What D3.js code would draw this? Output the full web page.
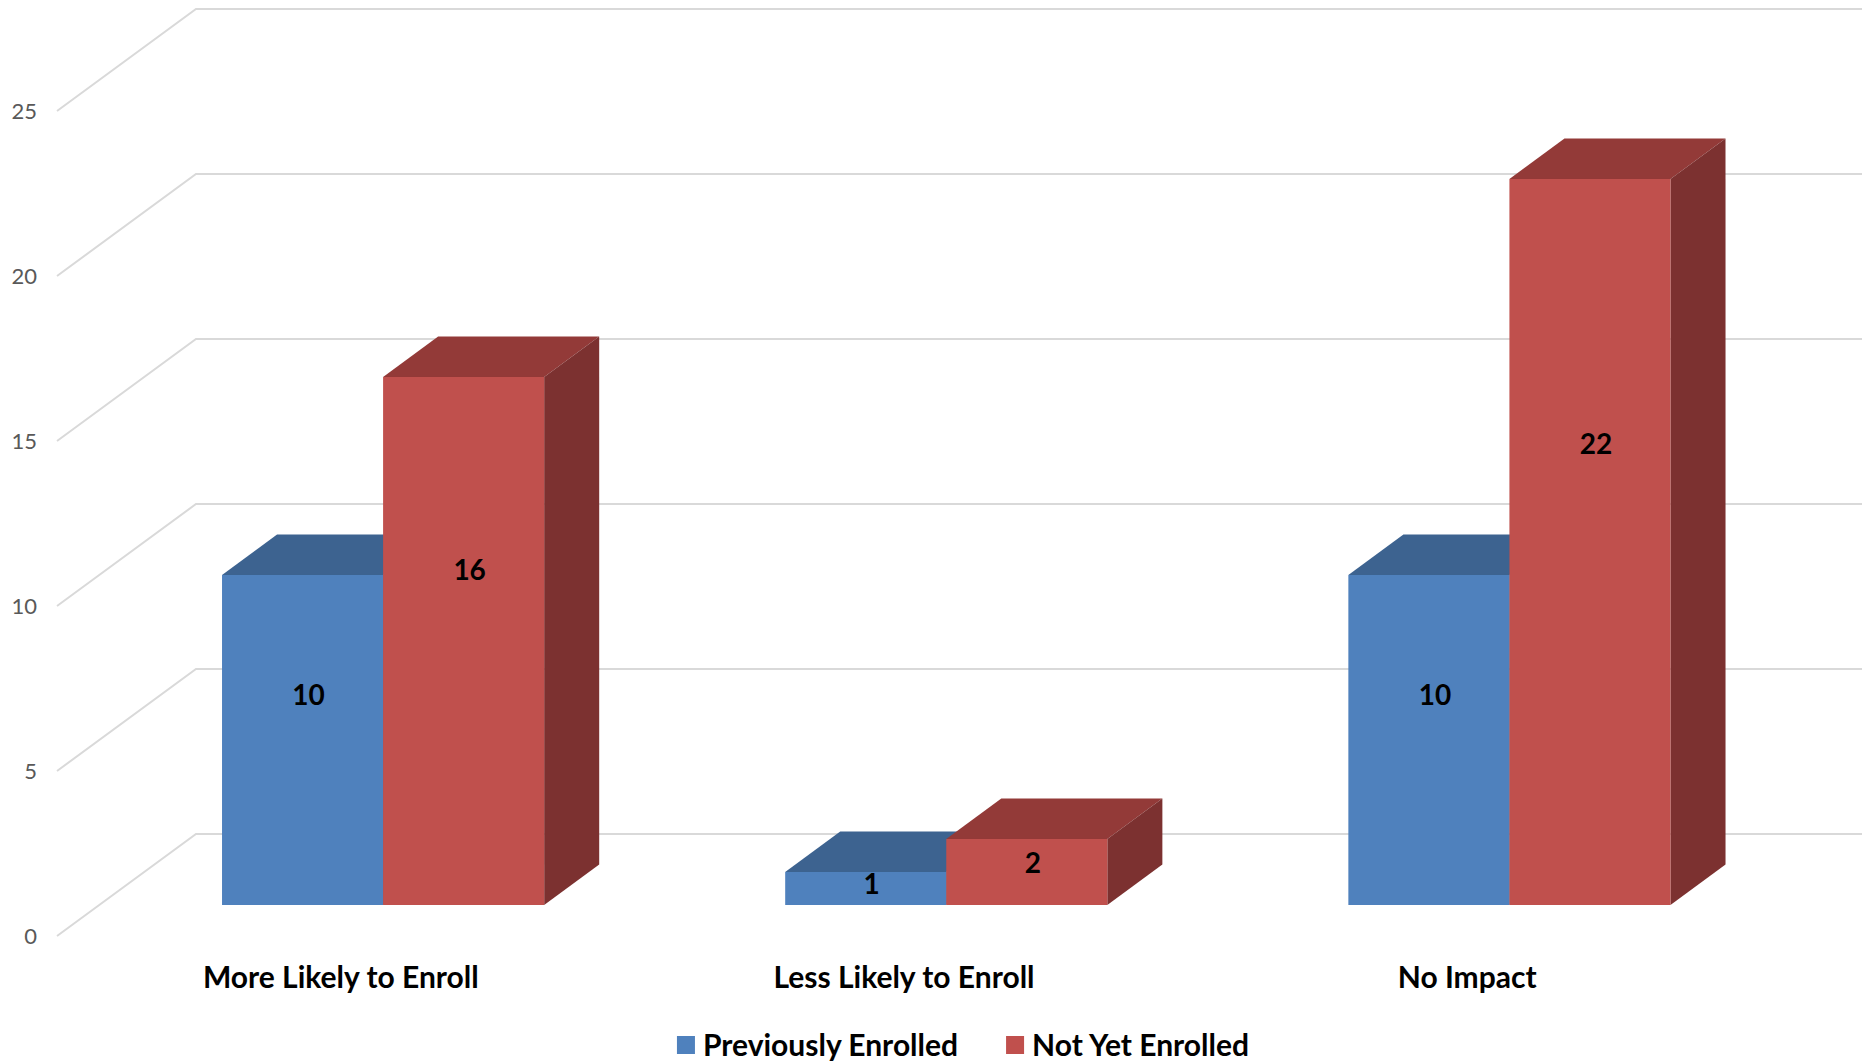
<!DOCTYPE html>
<html>
<head>
<meta charset="utf-8">
<script src="https://cdn.jsdelivr.net/npm/d3@7"></script>
<style>
  body { margin: 0; background: #fff; }
  svg { display: block; font-family: Lato, "Open Sans", sans-serif; }
</style>
</head>
<body>
<div id="chart"></div>
<script>
// data
const categories = ["More Likely to Enroll", "Less Likely to Enroll", "No Impact"]
const seriesNames = ["Previously Enrolled", "Not Yet Enrolled"]
const previouslyEnrolled = [10, 1, 10]
const notYetEnrolled = [16, 2, 22]
const yTicks = [0, 5, 10, 15, 20, 25]

const faceColors = {
    "Previously Enrolled": {front: "#4f81bd", top: "#3d6390", side: "#385d8a"},
    "Not Yet Enrolled": {front: "#c0504d", top: "#933a38", side: "#7c3130"}
}

const W = 1862, H = 1062

// 3d look: floor depth pushes things right and up
const depth = {dx: 139, dy: 102}
const barD0 = 0.304, barD1 = 0.70

const svg = d3.select("#chart").append("svg")
    .attr("width", W)
    .attr("height", H)

// scales (front plane)
const x0 = d3.scaleBand()
    .domain(categories)
    .range([57, 1751])
    .paddingInner(0.428)
    .paddingOuter(0.218)

const x1 = d3.scaleBand()
    .domain(seriesNames)
    .range([0, x0.bandwidth()])

const y = d3.scaleLinear()
    .domain([0, 25])
    .range([936, 111])

function px(x, d) { return x + d * depth.dx }
function py(v, d) { return y(v) - d * depth.dy }

// gridlines: side wall diagonal + back wall horizontal
const axisX = x0.range()[0]
const grid = svg.append("g").attr("class", "grid")
grid.selectAll("path")
    .data(yTicks)
    .enter().append("path")
    .attr("d", t => `M${px(axisX, 0)},${py(t, 0)}L${px(axisX, 1)},${py(t, 1)}L${W},${py(t, 1)}`)
    .attr("fill", "none")
    .attr("stroke", "#d9d9d9")
    .attr("stroke-width", 2)

// y tick labels
svg.append("g").selectAll("text")
    .data(yTicks)
    .enter().append("text")
    .attr("x", 37)
    .attr("y", t => y(t))
    .attr("dy", "0.35em")
    .attr("text-anchor", "end")
    .attr("font-size", 22)
    .attr("fill", "#595959")
    .text(d => d)

// bars
let bars = []
categories.forEach(function(c, i) {
    bars.push({cat: c, series: seriesNames[0], value: previouslyEnrolled[i]})
    bars.push({cat: c, series: seriesNames[1], value: notYetEnrolled[i]})
})

const barG = svg.append("g").selectAll("g")
    .data(bars)
    .enter().append("g")

function xl(d) { return x0(d.cat) + x1(d.series) }
function xr(d) { return x0(d.cat) + x1(d.series) + x1.bandwidth() }

// top face
barG.append("path")
    .attr("d", d => `M${px(xl(d), barD0)},${py(d.value, barD0)}L${px(xr(d), barD0)},${py(d.value, barD0)}` +
        `L${px(xr(d), barD1)},${py(d.value, barD1)}L${px(xl(d), barD1)},${py(d.value, barD1)}Z`)
    .attr("fill", d => faceColors[d.series].top)

// right side face
barG.append("path")
    .attr("d", d => `M${px(xr(d), barD0)},${py(d.value, barD0)}L${px(xr(d), barD1)},${py(d.value, barD1)}` +
        `L${px(xr(d), barD1)},${py(0, barD1)}L${px(xr(d), barD0)},${py(0, barD0)}Z`)
    .attr("fill", d => faceColors[d.series].side)

// front face
barG.append("rect")
    .attr("x", d => px(xl(d), barD0))
    .attr("y", d => py(d.value, barD0))
    .attr("width", x1.bandwidth())
    .attr("height", d => py(0, barD0) - py(d.value, barD0))
    .attr("fill", d => faceColors[d.series].front)

// data labels
barG.append("text")
    .attr("x", d => px(xl(d), barD0) + x1.bandwidth() / 2 + 6)
    .attr("y", d => py(d.value * 0.635, barD0))
    .attr("dy", "0.35em")
    .attr("text-anchor", "middle")
    .attr("font-size", 28)
    .attr("font-weight", "bold")
    .attr("fill", "#000")
    .text(d => d.value)

// category labels at floor front
svg.append("g").selectAll("text")
    .data(categories)
    .enter().append("text")
    .attr("x", d => x0(d) + x0.bandwidth() / 2)
    .attr("y", 977)
    .attr("dy", "0.35em")
    .attr("text-anchor", "middle")
    .attr("font-size", 30)
    .attr("font-weight", "bold")
    .attr("fill", "#000")
    .text(d => d)

// legend
const legend = svg.append("g")
const items = legend.selectAll("g")
    .data(seriesNames)
    .enter().append("g")
items.append("rect")
    .attr("width", 18)
    .attr("height", 18)
    .attr("y", -9)
    .attr("fill", d => faceColors[d].front)
items.append("text")
    .attr("x", 26)
    .attr("dy", "0.35em")
    .attr("font-size", 30)
    .attr("font-weight", "bold")
    .attr("fill", "#000")
    .text(d => d)

let offset = 0
items.each(function() {
    let g = d3.select(this)
    g.attr("transform", `translate(${offset},0)`)
    offset += 26 + g.select("text").node().getComputedTextLength() + 48
})
offset -= 48
legend.attr("transform", `translate(${963 - offset / 2}, 1045)`)
</script>
</body>
</html>
